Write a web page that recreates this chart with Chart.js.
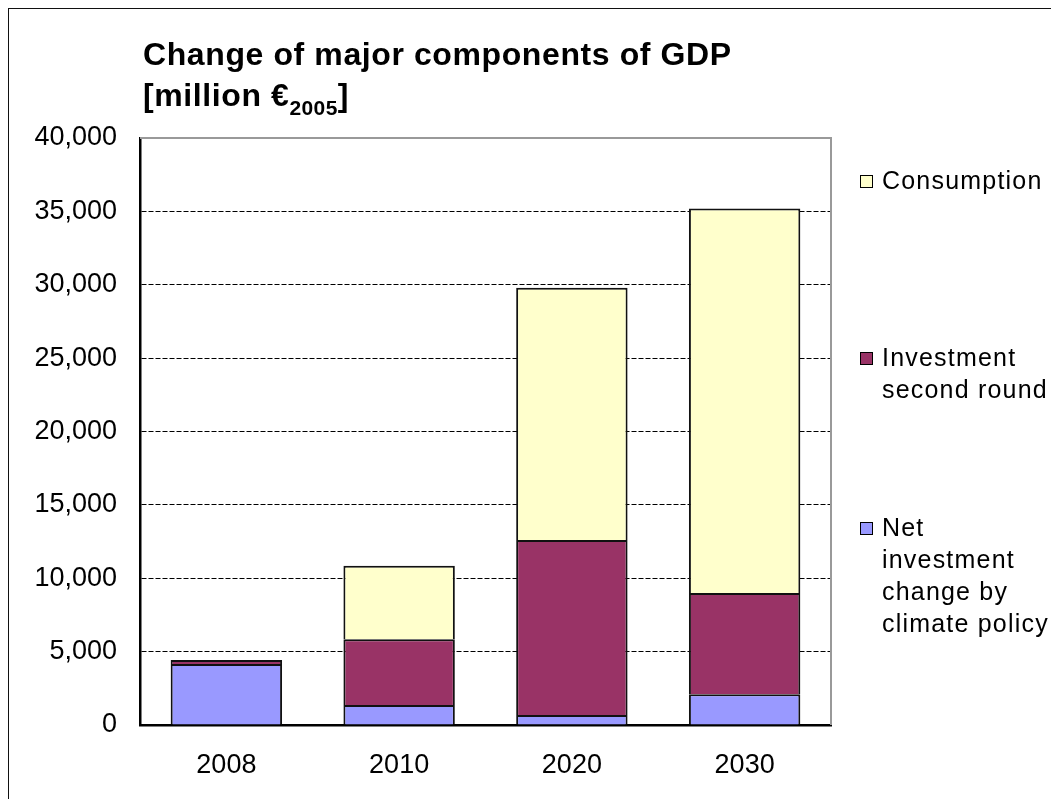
<!DOCTYPE html>
<html>
<head>
<meta charset="utf-8">
<script src="https://cdn.jsdelivr.net/npm/chart.js@4.4.1/dist/chart.umd.min.js"></script>
<style>
  html, body { margin: 0; padding: 0; background: #fff; }
  body { width: 1051px; height: 799px; position: relative; overflow: hidden; font-family: "Liberation Sans", Arial, sans-serif; }
  #frame { position: absolute; left: 8px; top: 8px; width: 1100px; height: 900px; border-left: 1.5px solid #111; border-top: 1.5px solid #111; }
  #chart-wrap { position: absolute; left: 0; top: 0; width: 1051px; height: 799px; }
  #title { position: absolute; left: 143px; top: 34px; font-weight: bold; font-size: 32px; line-height: 41px; letter-spacing: 0.6px; color: #000; white-space: nowrap; }
  #title sub { font-size: 21px; letter-spacing: 0.4px; vertical-align: baseline; position: relative; top: 9px; }
  .legend-item { position: absolute; left: 860px; font-size: 25px; line-height: 32px; letter-spacing: 1.2px; color: #000; }
  .legend-dot { position: absolute; left: 0; top: 11px; width: 11px; height: 11px; border: 1px solid #000; }
  .legend-text { position: absolute; left: 22px; top: 0; white-space: nowrap; }
</style>
</head>
<body>
<div id="frame"></div>
<div id="chart-wrap"><canvas id="gdp-chart" width="1051" height="799"></canvas></div>
<div id="title">Change of major components of GDP<br>[million €<sub>2005</sub>]</div>
<div id="gdp-legend"></div>
<script>
const YEARS = ['2008', '2010', '2020', '2030'];

const NET_INVESTMENT = [4150, 1360, 680, 2090];
const INVESTMENT_SECOND = [280, 4480, 11920, 6910];
const CONSUMPTION = [0, 5020, 17200, 26200];

const Y_MAX = 40000;
const Y_STEP = 5000;

const AXIS_FONT = { family: '"Liberation Sans", Arial', size: 27 };

const plotFrame = {
  id: 'plotFrame',
  afterDraw(chart) {
    const { ctx, chartArea: a } = chart;
    ctx.save();
    ctx.strokeStyle = '#999';
    ctx.lineWidth = 2;
    ctx.beginPath();
    ctx.moveTo(a.left, a.top);
    ctx.lineTo(a.right, a.top);
    ctx.lineTo(a.right, a.bottom);
    ctx.stroke();
    ctx.restore();
  }
};

const canvas = document.getElementById('gdp-chart');
new Chart(canvas.getContext('2d'), {
  type: 'bar',
  data: {
    labels: YEARS,
    datasets: [
      {
        label: 'Net investment change by climate policy',
        data: NET_INVESTMENT,
        backgroundColor: '#9999FF'
      },
      {
        label: 'Investment second round',
        data: INVESTMENT_SECOND,
        backgroundColor: '#993366'
      },
      {
        label: 'Consumption',
        data: CONSUMPTION,
        backgroundColor: '#FFFFCC'
      }
    ]
  },
  options: {
    responsive: false,
    animation: false,
    layout: { padding: { top: 138, right: 220, left: 0, bottom: 0 } },
    datasets: {
      bar: {
        borderColor: '#111',
        borderWidth: 2,
        borderSkipped: 'start',
        barPercentage: 0.645,
        categoryPercentage: 1
      }
    },
    plugins: {
      legend: { display: false },
      title: { display: false },
      tooltip: { enabled: false }
    },
    scales: {
      x: {
        stacked: true,
        afterFit(scale) { scale.height = 74; },
        grid: { display: false, drawTicks: false },
        border: { display: true, color: '#000', width: 2.5 },
        ticks: { color: '#000', padding: 24, font: AXIS_FONT }
      },
      y: {
        stacked: true,
        min: 0,
        max: Y_MAX,
        afterFit(scale) { scale.width = 140; },
        grid: {
          drawTicks: false,
          color: ctx => (ctx.tick && ctx.tick.value === Y_MAX) ? '#999' : '#000',
          lineWidth: 1
        },
        border: { display: true, color: '#000', width: 2.5, dash: [5, 2] },
        ticks: {
          stepSize: Y_STEP,
          color: '#000',
          padding: 23,
          font: AXIS_FONT,
          callback: v => v.toLocaleString('en-US')
        }
      }
    }
  },
  plugins: [plotFrame]
});

// legend drawn in the same order and place as the reference
const legendEl = document.getElementById('gdp-legend');
const items = [
  { color: '#FFFFCC', lines: ['Consumption'], top: 164 },
  { color: '#993366', lines: ['Investment', 'second round'], top: 341 },
  { color: '#9999FF', lines: ['Net', 'investment', 'change by', 'climate policy'], top: 511 }
];
legendEl.innerHTML = items.map(item => `
  <div class="legend-item" style="top:${item.top}px;">
    <span class="legend-dot" style="background:${item.color};"></span>
    <span class="legend-text">${item.lines.join('<br>')}</span>
  </div>
`).join('');
</script>
</body>
</html>
